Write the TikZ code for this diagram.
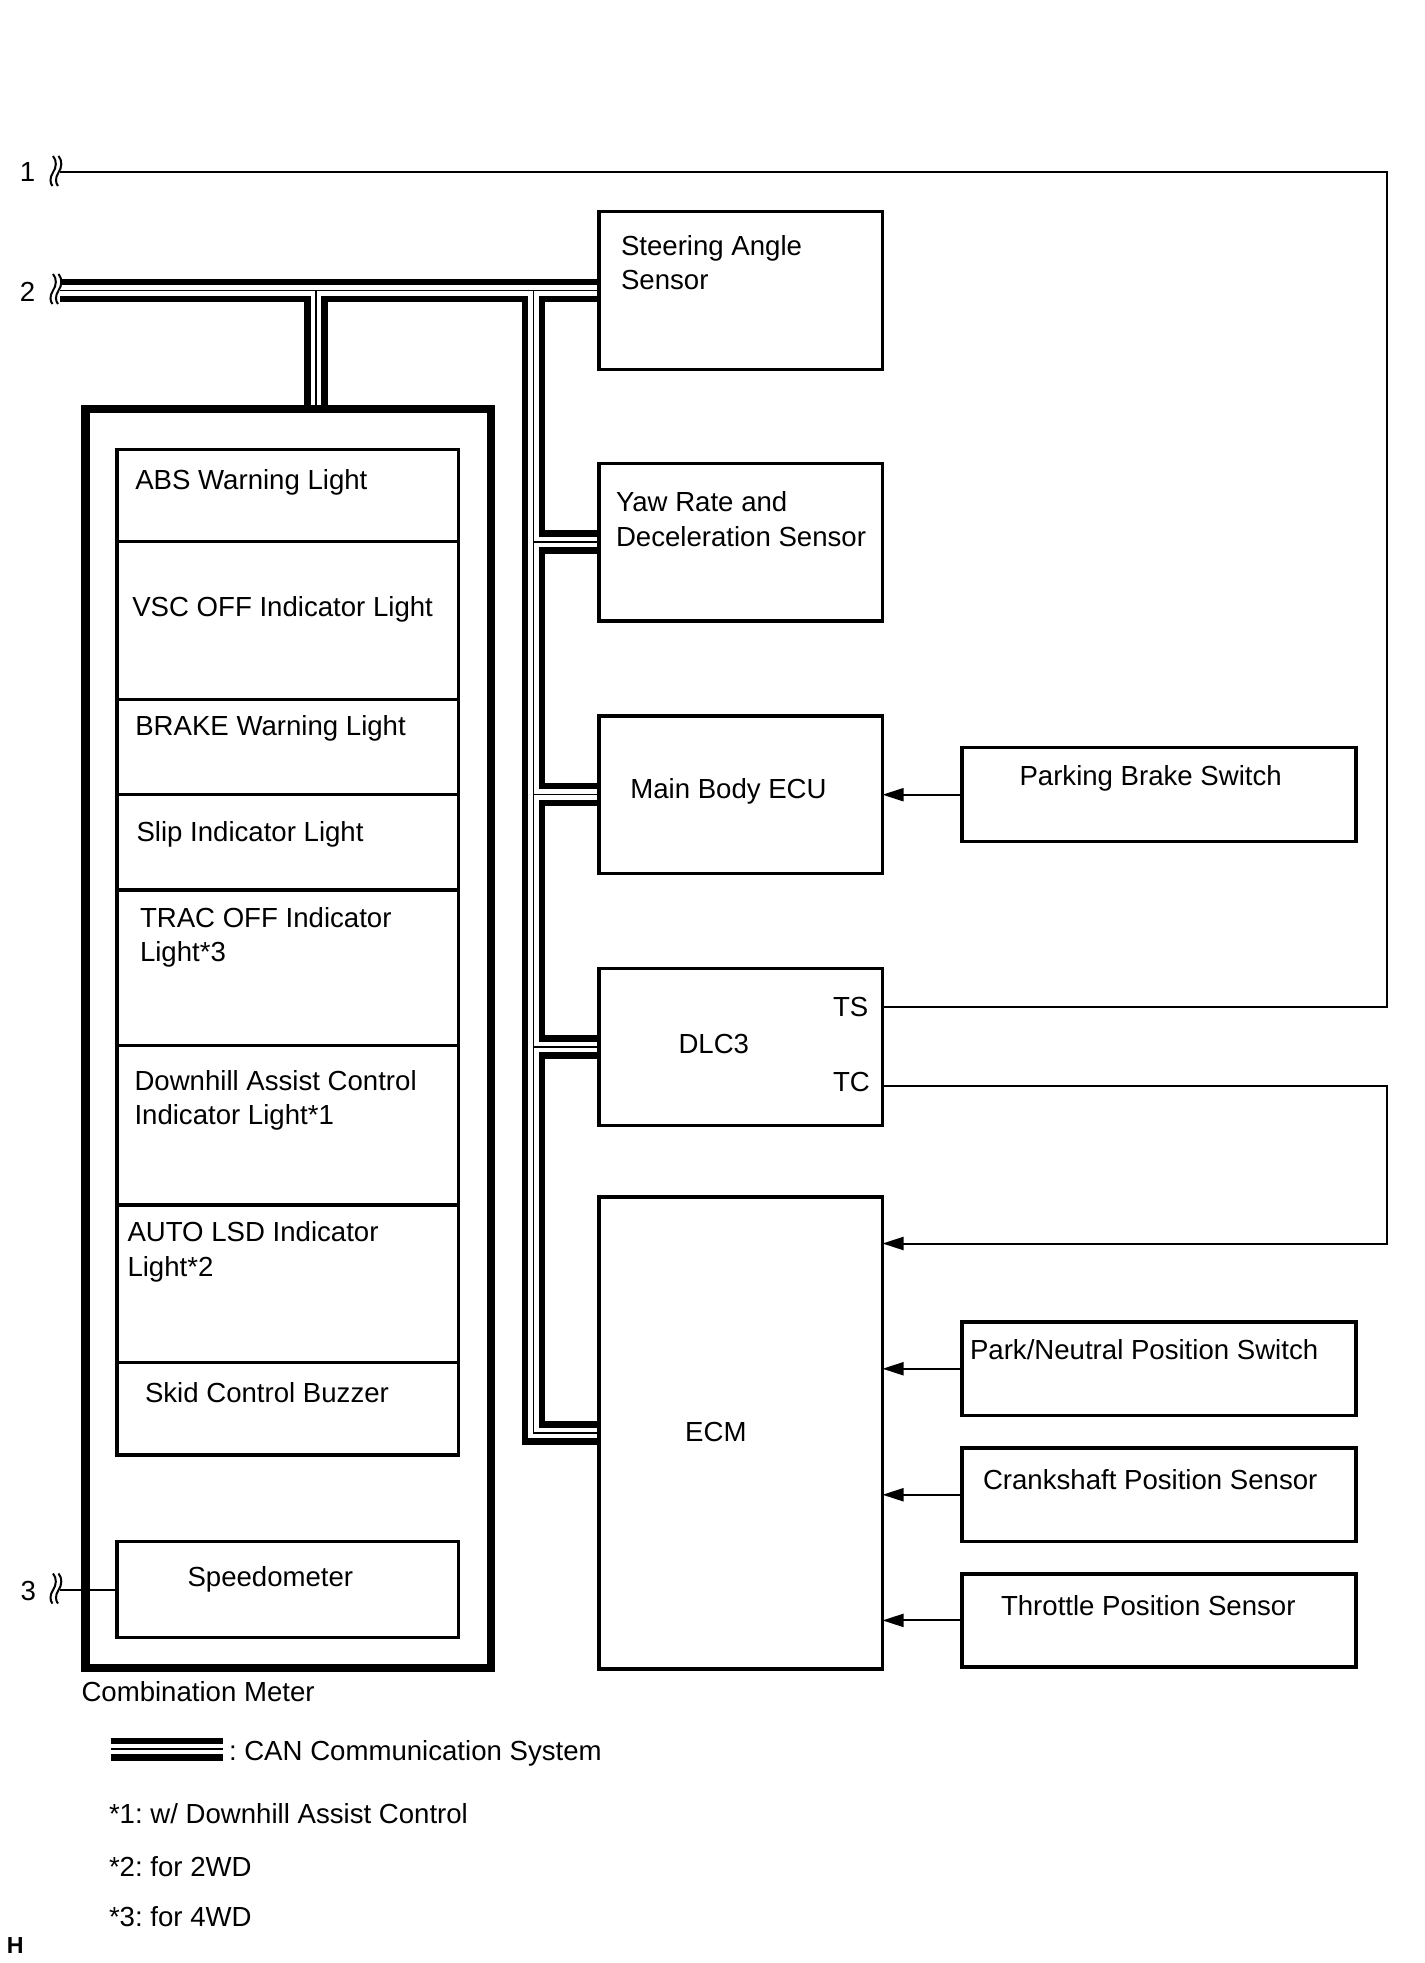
\documentclass[tikz,border=0pt]{standalone}
\usepackage{fontspec}
\usepackage{graphicx}
\setmainfont{Liberation Sans}
\usetikzlibrary{arrows.meta}
\pgfdeclarelayer{bg}
\pgfsetlayers{bg,main}
\frenchspacing
\newcommand\bx[6][box]{\node[#1,minimum width={(#5-#3)*0.5pt},minimum height={(#6-#4)*0.5pt}] (#2) at ({(#3+#5)/2},{(#4+#6)/2}) {};}
\newcommand\wavy[2]{\draw[brkst] (#1,#2-16.5) .. controls (#1+4,#2-12) and (#1+3.5,#2-5) .. (#1,#2) .. controls (#1-3.5,#2+5) and (#1-3,#2+11) .. (#1-0.5,#2+13.5);}
\newcommand\wavypair[2]{\wavy{#1}{#2}\wavy{#1+5.5}{#2}}
\begin{document}
\frenchspacing
\begin{tikzpicture}[x=0.5pt,y=-0.5pt,
  every node/.style={inner sep=0pt,outer sep=0pt},
  txt/.style={font=\fontsize{13.8}{17.15}\selectfont\frenchspacing,align=left},
  box/.style={draw,line width=1.75pt,rectangle},
  combo/.style={draw,line width=4.25pt,rectangle},
  wire/.style={line width=1pt},
  brkst/.style={line width=1pt},
  arr/.style={-{Triangle[length=10.5pt,width=6.5pt]}},
  busA/.style={line width=11.7pt,black,line join=miter},
  busB/.style={line width=5.2pt,white,line join=miter},
  busC/.style={line width=0.8pt,black,line join=miter},
]
\useasboundingbox (0,0) rectangle (1424,1963);

% right column boxes
\bx{steer}{599}{211.6}{882.5}{369.4}
\bx{yaw}{599}{463.3}{882.5}{621}
\bx{mb}{599}{716}{882.5}{873.3}
\bx{dlc}{599}{968.7}{882.5}{1125.5}
\bx{ecm}{599}{1196.8}{882.5}{1668.8}
\bx{park}{962}{747.7}{1356}{841.7}
\bx{pns}{962}{1322}{1356}{1415.5}
\bx{cps}{962}{1448}{1356}{1541.5}
\bx{tps}{962}{1573.8}{1356}{1667}

% combination meter
\bx[combo]{comb}{85.5}{409}{490.8}{1668}
\bx{abs}{117}{449.5}{458.3}{541.3}
\bx{vsc}{117}{541.3}{458.3}{699.7}
\bx{brake}{117}{699.7}{458.3}{794.7}
\bx{slip}{117}{794.7}{458.3}{890}
\bx{trac}{117}{890}{458.3}{1045.7}
\bx{dac}{117}{1045.7}{458.3}{1205}
\bx{lsd}{117}{1205}{458.3}{1362.7}
\bx{skid}{117}{1362.7}{458.3}{1455}
\bx{spd}{117}{1541.5}{458.3}{1637.7}

% coordinates
\coordinate (b2) at (60,290.5);
\coordinate (cb) at (316,290.5);
\coordinate (vb) at (533.5,290.5);
\coordinate (w1) at (60,172.5);
\coordinate (c1) at (1386.5,172.5);
\coordinate (pinTS) at (882.5,1006.6);
\coordinate (pinTC) at (882.5,1086);
\coordinate (c2) at (1386.5,1243.5);
\coordinate (w3) at (60,1590);
\coordinate (lg1) at (110.7,1749.2);
\coordinate (lg2) at (223.2,1749.2);

% CAN bus
\begin{pgfonlayer}{bg}
\fill[white] (0,0) rectangle (1424,1963);
\foreach \st in {busA,busB,busC}{
  \draw[\st] (b2) -- (steer.west)
    (cb) -- (cb |- comb.north)
    (vb) -- (vb |- ecm.west) -- (ecm.west)
    (vb |- yaw.west) -- (yaw.west)
    (vb |- mb.west) -- (mb.west)
    (vb |- dlc.west) -- (dlc.west);
  \draw[\st] (lg1) -- (lg2);
}
\end{pgfonlayer}

% wires
\draw[wire] (w1) -- (c1) |- (pinTS);
\draw[wire,arr] (pinTC) -| (c2) -- (c2 -| ecm.east);
\draw[wire,arr] (park.west) -- (park.west -| mb.east);
\draw[wire,arr] (pns.west) -- (pns.west -| ecm.east);
\draw[wire,arr] (cps.west) -- (cps.west -| ecm.east);
\draw[wire,arr] (tps.west) -- (tps.west -| ecm.east);
\draw[wire] (w3) -- (w3 -| spd.west);

% break symbols
\wavypair{53}{172.5}
\wavypair{53}{290.5}
\wavypair{53}{1590}

% labels
\node[txt] (n1) at (27.5,172.5) {1};
\node[txt] (n2) at (27.5,291.5) {2};
\node[txt] (n3) at (28.3,1590.8) {3};

\node[txt,anchor=north west] (tSteer) at (621,235.7) {Steering Angle\\Sensor};
\node[txt,anchor=north west] (tYaw) at (616,491.7) {Yaw Rate and\\Deceleration Sensor};
\node[txt,anchor=base west] (tMB) at (630.3,798.3) {Main Body ECU};
\node[txt,anchor=base west] (tDLC) at (678.5,1053.3) {DLC3};
\node[txt,anchor=base west] (tTS) at (833,1016.7) {TS};
\node[txt,anchor=base west] (tTC) at (833,1091.7) {TC};
\node[txt,anchor=base west] (tECM) at (685.2,1441.7) {ECM};
\node[txt,anchor=base west] (tPark) at (1019.5,785.7) {Parking Brake Switch};
\node[txt,anchor=base west] (tPN) at (970,1359.8) {Park/Neutral Position Switch};
\node[txt,anchor=base west] (tCPS) at (983,1489) {Crankshaft Position Sensor};
\node[txt,anchor=base west] (tTPS) at (1001,1615) {Throttle Position Sensor};

\node[txt,anchor=base west] (tABS) at (135.3,489.3) {ABS Warning Light};
\node[txt,anchor=base west] (tVSC) at (132.3,616) {VSC OFF Indicator Light};
\node[txt,anchor=base west] (tBRK) at (135.3,735) {BRAKE Warning Light};
\node[txt,anchor=base west] (tSlip) at (136.5,841.7) {Slip Indicator Light};
\node[txt,anchor=north west] (tTRAC) at (140,907.6) {TRAC OFF Indicator\\Light*3};
\node[txt,anchor=north west] (tDAC) at (134.5,1070) {Downhill Assist Control\\Indicator Light*1};
\node[txt,anchor=north west] (tLSD) at (127.5,1221.7) {AUTO LSD Indicator\\Light*2};
\node[txt,anchor=base west] (tSkid) at (145,1402.7) {Skid Control Buzzer};
\node[txt,anchor=base west] (tSpd) at (187.5,1586.7) {Speedometer};
\node[txt,anchor=base west] (tComb) at (81.5,1701.7) {Combination Meter};

\node[txt,anchor=base west] (tCAN) at (229,1760) {: CAN Communication System};
\node[txt,anchor=base west] (tF1) at (109,1823) {*1: w/ Downhill Assist Control};
\node[txt,anchor=base west] (tF2) at (109,1876) {*2: for 2WD};
\node[txt,anchor=base west] (tF3) at (109,1926.5) {*3: for 4WD};
\node[font=\fontsize{11.6}{12}\selectfont\bfseries,anchor=base west] (tH) at (6.8,1953.3) {H};
\end{tikzpicture}
\end{document}
